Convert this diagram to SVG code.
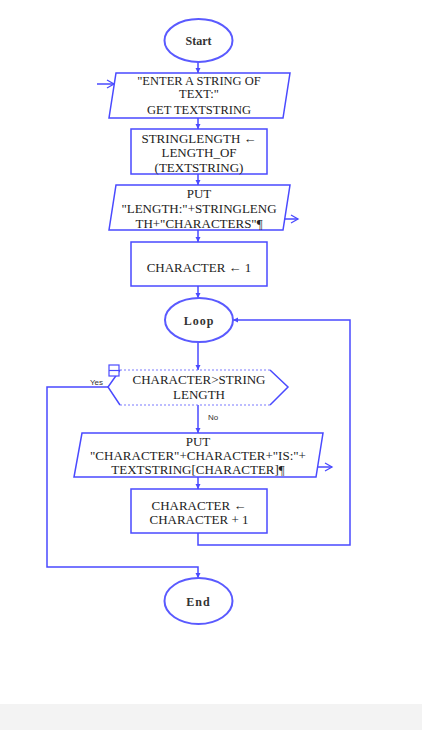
<svg xmlns="http://www.w3.org/2000/svg" width="422" height="730" viewBox="0 0 422 730">
<style>
.sh{fill:#fff;stroke:#4a4aff;stroke-width:1.5}
.el{fill:#fff;stroke:#5a5aff;stroke-width:2}
.ln{fill:none;stroke:#4a4aff;stroke-width:1.5}
.t{font-family:"Liberation Serif","Times New Roman",serif;font-size:13px;fill:#222;text-anchor:middle}
.b{font-family:"Liberation Serif","Times New Roman",serif;font-size:12px;font-weight:bold;fill:#333;text-anchor:middle}
.s{font-family:"Liberation Sans",Arial,sans-serif;font-size:8px;fill:#333}
</style>
<defs>
<marker id="ah" markerWidth="6" markerHeight="6" refX="5" refY="3" orient="auto" markerUnits="userSpaceOnUse">
<path d="M0,0.5 L5,3 L0,5.5 z" fill="#4a4aff"/>
</marker>
<marker id="oa" markerWidth="10" markerHeight="10" refX="8" refY="5" orient="auto" markerUnits="userSpaceOnUse">
<path d="M1,1 L8,5 L1,9" fill="none" stroke="#4a4aff" stroke-width="1.3"/>
</marker>
</defs>
<rect x="0" y="704" width="422" height="26" fill="#f3f3f3"/>
<g id="connectors">
<line class="ln" x1="198" y1="62" x2="198" y2="73" marker-end="url(#ah)"/>
<line class="ln" x1="198" y1="118" x2="198" y2="129" marker-end="url(#ah)"/>
<line class="ln" x1="198" y1="174" x2="198" y2="185" marker-end="url(#ah)"/>
<line class="ln" x1="198" y1="230" x2="198" y2="242" marker-end="url(#ah)"/>
<line class="ln" x1="198" y1="286" x2="198" y2="298" marker-end="url(#ah)"/>
<line class="ln" x1="198" y1="342" x2="198" y2="370" marker-end="url(#ah)"/>
<line class="ln" x1="198" y1="405" x2="198" y2="433" marker-end="url(#ah)"/>
<line class="ln" x1="198" y1="477" x2="198" y2="489" marker-end="url(#ah)"/>
<polyline class="ln" points="198,533 198,545 350,545 350,320 233,320" marker-end="url(#ah)"/>
<polyline class="ln" points="108,387 47,387 47,567 198,567 198,578" marker-end="url(#ah)"/>
<line class="ln" x1="97" y1="84" x2="114" y2="84" marker-end="url(#oa)"/>
<line class="ln" x1="285" y1="219" x2="298" y2="219" marker-end="url(#oa)"/>
<line class="ln" x1="318" y1="467" x2="332" y2="467" marker-end="url(#oa)"/>
<text class="s" x="90" y="385">Yes</text>
<text class="s" x="208" y="420">No</text>
</g>
<g id="start">
<ellipse class="el" cx="198.5" cy="40.5" rx="34" ry="21.5"/>
<text class="b" x="198.5" y="45">Start</text>
</g>
<g id="input">
<polygon class="sh" points="116,73 290,73 283,118 109,118"/>
<text class="t" x="199" y="85" style="font-size:12.5px">"ENTER A STRING OF</text>
<text class="t" x="199" y="98" style="font-size:12.5px">TEXT:"</text>
<text class="t" x="199" y="114" style="font-size:12.5px">GET TEXTSTRING</text>
</g>
<g id="assign-length">
<rect class="sh" x="131" y="129" width="136" height="45"/>
<text class="t" x="199" y="143">STRINGLENGTH ←</text>
<text class="t" x="199" y="157">LENGTH_OF</text>
<text class="t" x="199" y="172">(TEXTSTRING)</text>
</g>
<g id="output-length">
<polygon class="sh" points="116,185 290,185 283,230 109,230"/>
<text class="t" x="199" y="198">PUT</text>
<text class="t" x="199" y="213">"LENGTH:"+STRINGLENG</text>
<text class="t" x="199" y="228">TH+"CHARACTERS"¶</text>
</g>
<g id="init-char">
<rect class="sh" x="131" y="242" width="136" height="44"/>
<text class="t" x="199" y="272">CHARACTER ← 1</text>
</g>
<g id="loop">
<ellipse class="el" cx="199" cy="320" rx="34" ry="22"/>
<text class="b" x="199" y="325" letter-spacing="1">Loop</text>
</g>
<g id="decision">
<polygon points="108,387 120,370 270,370 288,387 270,405 120,405" fill="#fff" stroke="none"/>
<polyline class="ln" points="120,370 108,387 120,405"/>
<polyline class="ln" points="270,370 288,387 270,405"/>
<line x1="120" y1="370" x2="270" y2="370" stroke="#7a7aff" stroke-width="1.2" stroke-dasharray="2,2"/>
<line x1="120" y1="405" x2="270" y2="405" stroke="#7a7aff" stroke-width="1.2" stroke-dasharray="2,2"/>
<rect x="109" y="365" width="10" height="11" fill="#fff" stroke="#4a4aff" stroke-width="1.2"/>
<line x1="109" y1="370.5" x2="119" y2="370.5" stroke="#4a4aff" stroke-width="1.2"/>
<text class="t" x="199" y="384">CHARACTER&gt;STRING</text>
<text class="t" x="199" y="399">LENGTH</text>
</g>
<g id="output-char">
<polygon class="sh" points="82,433 323,433 316,477 74,477"/>
<text class="t" x="198" y="446">PUT</text>
<text class="t" x="198" y="460">"CHARACTER"+CHARACTER+"IS:"+</text>
<text class="t" x="198" y="474">TEXTSTRING[CHARACTER]¶</text>
</g>
<g id="increment">
<rect class="sh" x="131" y="489" width="136" height="44"/>
<text class="t" x="199" y="510">CHARACTER ←</text>
<text class="t" x="199" y="524">CHARACTER + 1</text>
</g>
<g id="end">
<ellipse class="el" cx="198.5" cy="601" rx="34" ry="23"/>
<text class="b" x="198.5" y="606" letter-spacing="1">End</text>
</g>
</svg>
